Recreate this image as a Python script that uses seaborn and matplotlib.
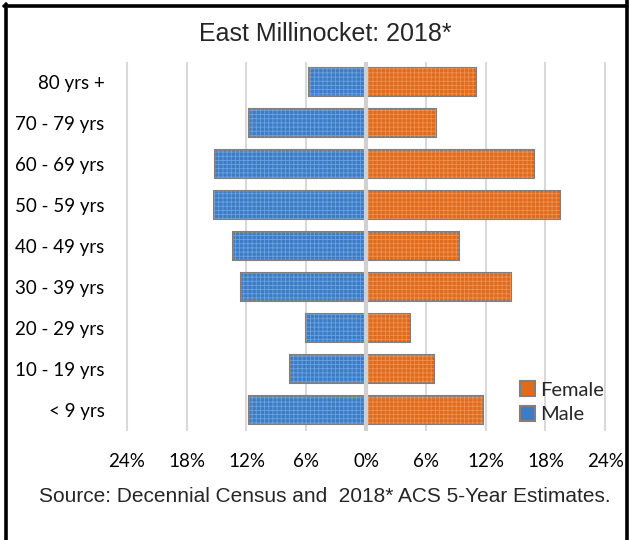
import matplotlib
matplotlib.use("Agg")
import matplotlib.pyplot as plt
from matplotlib.lines import Line2D
from matplotlib.patches import Rectangle
from matplotlib.ticker import FuncFormatter
import pandas as pd
import seaborn as sns

age_groups = ["80 yrs +", "70 - 79 yrs", "60 - 69 yrs", "50 - 59 yrs", "40 - 49 yrs",
              "30 - 39 yrs", "20 - 29 yrs", "10 - 19 yrs", "< 9 yrs"]
male_pct = [5.7, 11.7, 15.2, 15.3, 13.4, 12.6, 6.0, 7.6, 11.7]
female_pct = [11.0, 7.0, 16.8, 19.5, 9.3, 14.5, 4.4, 6.8, 11.7]
x_ticks = [-24, -18, -12, -6, 0, 6, 12, 18, 24]

palette = {"Male": "#3c7cc7", "Female": "#df6b1d"}
hatch_colors = {"#3c7cc7": "#6aa2dc", "#df6b1d": "#f0904f"}

df = pd.concat([
    pd.DataFrame({"age": age_groups, "pct": [-v for v in male_pct], "sex": "Male"}),
    pd.DataFrame({"age": age_groups, "pct": female_pct, "sex": "Female"}),
])

sns.set_style("white")
plt.rcParams["font.family"] = ["Lato", "DejaVu Sans"]
plt.rcParams["hatch.linewidth"] = 0.6

fig = plt.figure(figsize=(6.29, 5.40), dpi=100)
ax = fig.add_axes([0.197, 0.202, 0.770, 0.684])

for x in x_ticks:
    ax.axvline(x, color="#d9d9d9", lw=1.5, zorder=0)

sns.barplot(data=df, x="pct", y="age", hue="sex", order=age_groups,
            hue_order=["Male", "Female"], palette=palette, dodge=False,
            width=0.68, orient="h", ax=ax, edgecolor="#7f7f7f", linewidth=1.5,
            saturation=1, zorder=2)

# light grid texture on top of each bar
for p in list(ax.patches):
    fc = matplotlib.colors.to_hex(p.get_facecolor())
    hc = hatch_colors.get(fc)
    if hc is None:
        continue
    ax.add_patch(Rectangle(p.get_xy(), p.get_width(), p.get_height(),
                           facecolor="none", edgecolor=hc, hatch="++++",
                           lw=0, zorder=2.5))

ax.axvline(0, color="#d0d0d0", lw=3, zorder=3)

ax.set_xlim(-24.3, 24.3)
ax.set_xticks(x_ticks)
ax.xaxis.set_major_formatter(FuncFormatter(lambda v, _: f"{abs(v):.0f}%"))
ax.set_xlabel("")
ax.set_ylabel("")
ax.tick_params(axis="both", length=0, labelsize=13.5, colors="#000000")
ax.tick_params(axis="x", pad=16)
ax.tick_params(axis="y", pad=14)
for s in ax.spines.values():
    s.set_visible(False)

handles, labels = ax.get_legend_handles_labels()
ax.legend(handles[::-1], labels[::-1], loc="center left",
          bbox_to_anchor=(0.822, 0.255), bbox_transform=fig.transFigure,
          frameon=False, fontsize=14.5, handlelength=0.75, handleheight=0.75,
          handletextpad=0.25, labelspacing=0.35, borderpad=0)
ax.get_legend().set_bbox_to_anchor((0.81, 0.255), transform=fig.transFigure)

fig.text(0.517, 0.937, "East Millinocket: 2018*", ha="center", va="center",
         fontsize=18, family="Liberation Sans")
fig.text(0.517, 0.080, "Source: Decennial Census and  2018* ACS 5-Year Estimates.",
         ha="center", va="center", fontsize=15, family="Liberation Sans")

# outer frame
fig.add_artist(Line2D([4 / 629, 627 / 629], [1 - 5.5 / 540, 1 - 5.5 / 540],
                      transform=fig.transFigure, color="black", lw=2.6))
fig.add_artist(Line2D([5.5 / 629, 5.5 / 629], [0, 1 - 4 / 540],
                      transform=fig.transFigure, color="black", lw=2.6))
fig.add_artist(Line2D([627 / 629, 627 / 629], [0, 1],
                      transform=fig.transFigure, color="black", lw=2.6))

fig.savefig("out.png", dpi=100)
